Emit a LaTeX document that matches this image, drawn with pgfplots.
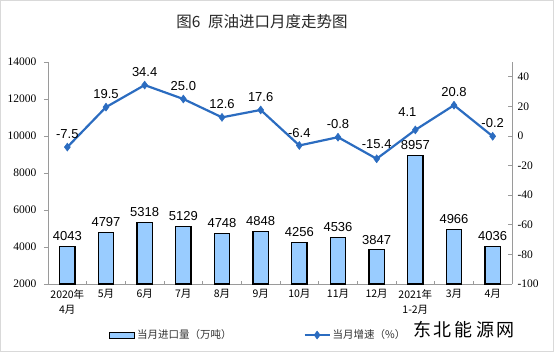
\documentclass[border=0pt]{standalone}
\usepackage{pgfplots}
\pgfplotsset{compat=1.18}
\usepackage{pgfplotstable}
\usepackage{fontspec}
\setmainfont{Liberation Sans}
\newfontfamily\cjk{Noto Sans CJK SC}
\newfontfamily\cjkb[AutoFakeBold=3.5]{Noto Sans CJK SC}
\newfontfamily\tnr{Liberation Serif}
\definecolor{barblue}{HTML}{99CCFF}
\definecolor{lineblue}{HTML}{2B6CC0}
\definecolor{axgray}{HTML}{9A9A9A}
\definecolor{txtgray}{HTML}{333333}

\pgfplotstableread{
x val
0 4043
1 4797
2 5318
3 5129
4 4748
5 4848
6 4256
7 4536
8 3847
9 8957
10 4966
11 4036
}\imports

\pgfplotstableread{
x val lab dx dy
0 -7.5 -7.5 0 0
1 19.5 19.5 0 0
2 34.4 34.4 0 0
3 25.0 25.0 0 0
4 12.6 12.6 0 0
5 17.6 17.6 0 0
6 -6.4 -6.4 0 0
7 -0.8 -0.8 0 0
8 -15.4 -15.4 0 2
9 4.1 4.1 -8 5
10 20.8 20.8 0 0
11 -0.2 -0.2 0 0
}\growth

\begin{document}
\begin{tikzpicture}[x=1pt,y=1pt]
\draw[draw=black!15, line width=1pt] (0.5,0.5) rectangle (553.5,351.5);
\node[font=\cjk\fontsize{15.5}{18}\selectfont, text=black!85] at (262,330) {图6\enspace 原油进口月度走势图};
\node[font=\cjkb\fontsize{18}{20}\selectfont, text=black] at (464,22) {东\,北\,能\,源\,网};

\begin{axis}[
  at={(48pt,68pt)}, anchor=south west,
  scale only axis, width=464pt, height=222pt,
  xmin=-0.5, xmax=11.5,
  ymin=2000, ymax=14000,
  ytick={2000,4000,...,14000},
  scaled y ticks=false,
  axis x line*=bottom, axis y line*=left,
  axis line style={draw=axgray, line width=0.8pt, -},
  xtick={0,...,11},
  xticklabels={{2020年\\4月},5月,6月,7月,8月,9月,10月,11月,12月,{2021年\\1-2月},3月,4月},
  xticklabel style={font=\cjk\fontsize{10.5}{15}\selectfont, align=center, text=black, yshift=-2pt},
  major x tick style={draw=none},
  minor xtick={0.5,1.5,...,10.5},
  minor x tick style={draw=axgray, line width=0.8pt},
  minor tick length=3pt,
  xtick align=inside,
  ytick align=outside,
  major tick length=4pt,
  y tick style={draw=axgray, line width=0.8pt},
  /pgf/number format/assume math mode=true,
  /pgf/number format/1000 sep={},
  yticklabel style={font=\tnr\fontsize{11.5}{13}\selectfont, text=black, xshift=-4pt},
  clip=false,
]
\addplot[ybar, bar width=15.3pt, fill=barblue, draw=black, line width=1.1pt,
  nodes near coords, point meta=explicit symbolic,
  every node near coord/.append style={font=\fontsize{13}{15}\selectfont, text=black, anchor=south, inner sep=0pt, yshift=5pt}]
  table[x=x, y=val, meta=val] {\imports};
\end{axis}

\begin{axis}[
  at={(48pt,68pt)}, anchor=south west,
  scale only axis, width=464pt, height=222pt,
  xmin=-0.5, xmax=11.5,
  ymin=-100, ymax=50,
  ytick={-100,-80,...,40},
  axis x line=none, axis y line*=right,
  axis line style={draw=axgray, line width=0.8pt, -},
  ytick align=inside,
  major tick length=4pt,
  y tick style={draw=axgray, line width=0.8pt},
  /pgf/number format/assume math mode=true,
  yticklabel style={font=\tnr\fontsize{11.5}{13}\selectfont, text=black, xshift=2pt},
  clip=false,
  legend columns=2,
  legend style={at={(0.453,-0.23)}, anchor=center, draw=none, fill=none,
    font=\cjk\fontsize{10.5}{12}\selectfont, text=txtgray,
    /tikz/every even column/.append style={column sep=70pt}},
]
\addlegendimage{legend image code/.code={\draw[fill=barblue, draw=black, line width=1pt] (0pt,-3pt) rectangle (25pt,3pt);}}
\addlegendentry{当月进口量（万吨）}
\addplot[color=lineblue, line width=2.2pt, mark=diamond*, mark size=4pt,
  mark options={solid, fill=lineblue, line width=0.5pt},
  legend image code/.code={\draw[mark repeat=2,mark phase=2] plot coordinates {(0pt,0pt) (12.5pt,0pt) (25pt,0pt)};},
  nodes near coords, point meta=explicit symbolic,
  visualization depends on={\thisrow{dx}\as\mydx},
  visualization depends on={\thisrow{dy}\as\mydy},
  every node near coord/.append style={font=\fontsize{13}{15}\selectfont, text=black, anchor=south, inner sep=0pt, xshift=\mydx pt, yshift=8pt+\mydy pt}]
  table[x=x, y=val, meta=lab] {\growth};
\addlegendentry{当月增速（\%）}
\end{axis}
\end{tikzpicture}
\end{document}
